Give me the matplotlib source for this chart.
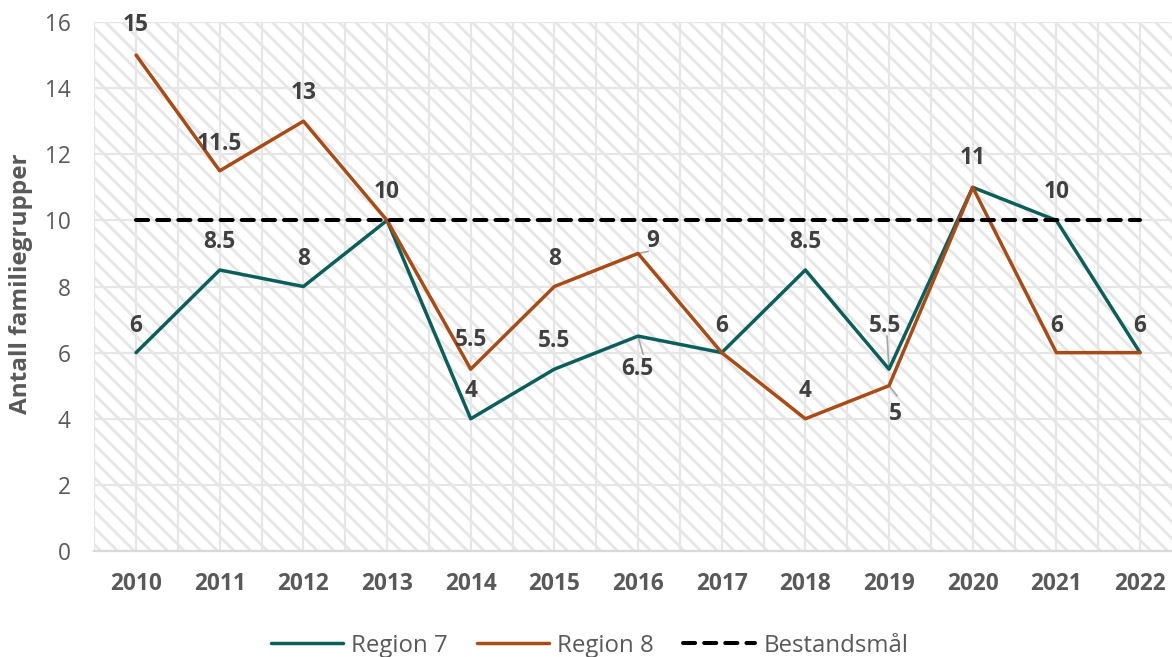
import matplotlib.pyplot as plt
from matplotlib.patches import Rectangle
from matplotlib.ticker import MultipleLocator

plt.rcParams['font.family'] = ['Open Sans', 'DejaVu Sans']
plt.rcParams['hatch.linewidth'] = 2.0

years = ['2010', '2011', '2012', '2013', '2014', '2015', '2016',
         '2017', '2018', '2019', '2020', '2021', '2022']
region7 = [6, 8.5, 8, 10, 4, 5.5, 6.5, 6, 8.5, 5.5, 11, 10, 6]
region8 = [15, 11.5, 13, 10, 5.5, 8, 9, 6, 4, 5, 11, 6, 6]
target = [10] * len(years)

teal = '#0b5f5b'
brown = '#a84b14'
label_col = '#404040'

# label offsets in pixels (dx, dy); None = no label (shared with other series)
off7 = [(0, 27), (0, 28), (0, 28), None, (0, 28), (0, 28), (-1, -33),
        None, (0, 28), (-4, 43), None, (0, 28), None]
off8 = [(0, 30), (0, 27), (0, 28), (0, 28), (0, 29), (0, 28), (15, 12),
        (0, 27), (0, 28), (6, -28), (0, 29), (0, 27), (0, 27)]
# leader lines, pixel offsets of the far end from the point
leader7 = {6: (5, -18), 9: (-2, 33)}
leader8 = {6: (10, 2), 9: (8, -10)}

fig = plt.figure(figsize=(11.72, 6.57), dpi=100)
ax = fig.add_axes([0.0804, 0.1613, 0.928, 0.8052])

x = list(range(len(years)))
ax.set_xlim(-0.5, 12.5)
ax.set_ylim(0, 16)
px_x = 13 / (0.928 * 1172)
px_y = 16 / (0.8052 * 657)

# hatched plot background
ax.add_patch(Rectangle((-0.5, 0), 13, 16, facecolor='white', edgecolor='#e6e6e6',
                       hatch='\\\\', linewidth=0, zorder=0))

ax.yaxis.set_major_locator(MultipleLocator(2))
ax.set_xticks(x)
ax.set_xticks([i + 0.5 for i in range(-1, 13)], minor=True)
ax.grid(True, which='major', color='#e6e6e6', linewidth=1.6, zorder=1)
ax.grid(True, which='minor', axis='x', color='#e6e6e6', linewidth=1.6, zorder=1)
ax.set_axisbelow(True)

for s in ['top', 'right', 'left']:
    ax.spines[s].set_visible(False)
ax.spines['bottom'].set_color('#d9d9d9')
ax.spines['bottom'].set_linewidth(1.6)

ax.set_xticklabels(years, fontsize=16.3, fontweight='bold', color='#595959')
ax.tick_params(axis='x', which='both', length=0, pad=15)
ax.tick_params(axis='y', length=0, labelsize=16.3, labelcolor='#595959', pad=17)
fig.text(21 / 1172, 0.568, 'Antall familiegrupper', rotation=90, ha='center',
         va='center', fontsize=17.5, fontweight='bold', color='#595959')

l7, = ax.plot(x, region7, color=teal, linewidth=2.5, zorder=3, label='Region 7',
              solid_capstyle='round')
l8, = ax.plot(x, region8, color=brown, linewidth=2.5, zorder=3, label='Region 8',
              solid_capstyle='round')
lt, = ax.plot(x, target, color='black', linewidth=2.9, linestyle=(0, (3, 2.25)),
              dash_capstyle='round', zorder=4, label='Bestandsmål')


def fmt(v):
    return f'{v:g}'


for vals, offs, leads in [(region7, off7, leader7), (region8, off8, leader8)]:
    for i, (v, o) in enumerate(zip(vals, offs)):
        if o is None:
            continue
        ax.annotate(fmt(v), (i, v), xytext=o, textcoords='offset pixels',
                    ha='center', va='center', fontsize=16.3, fontweight='bold',
                    color=label_col, zorder=5)
        if i in leads:
            dx, dy = leads[i]
            ax.plot([i, i + dx * px_x], [v, v + dy * px_y], color='#a6a6a6',
                    linewidth=1.2, zorder=2)

fig.legend(handles=[l7, l8, lt], loc='center', bbox_to_anchor=(0.503, 0.017),
           ncol=3, frameon=False, fontsize=17.3, handlelength=3.0,
           columnspacing=1.2, handletextpad=0.35, labelcolor='#595959')

fig.savefig('out.png', dpi=100)
